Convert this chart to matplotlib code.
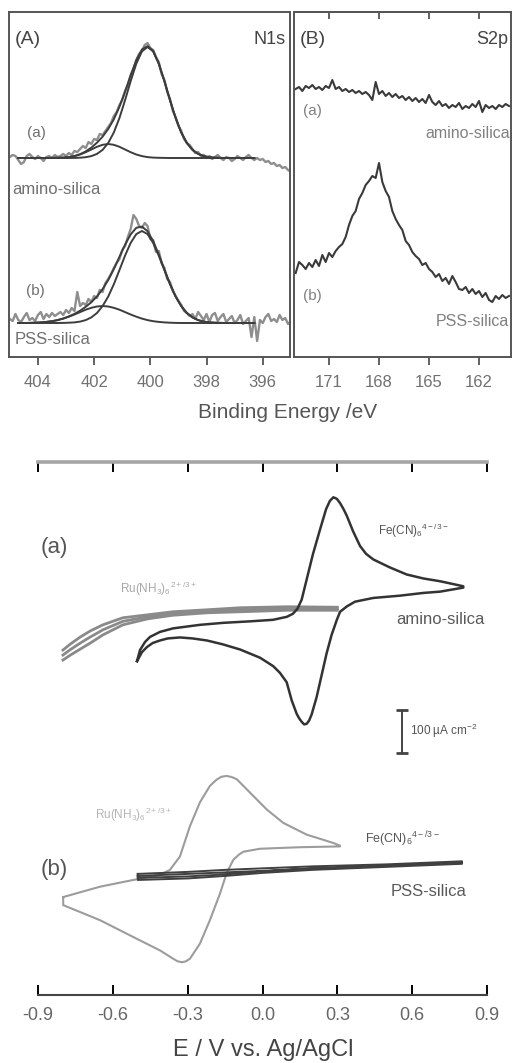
import matplotlib
matplotlib.use('Agg')
import matplotlib.pyplot as plt
import numpy as np

plt.rcParams['font.family'] = ['Liberation Sans', 'DejaVu Sans']
plt.rcParams['mathtext.fontset'] = 'custom'
plt.rcParams['mathtext.rm'] = 'Liberation Sans'
plt.rcParams['mathtext.it'] = 'Liberation Sans:italic'
plt.rcParams['mathtext.default'] = 'regular'
plt.rcParams['axes.unicode_minus'] = False

W, H = 512, 1063

# ---------------- XPS N1s (panel A) ----------------
# binding energy grid of the raw spectra, 405.0 -> 395.0 eV in 0.1 eV steps
be_n1s = np.linspace(405.0, 395.0, 101)
n1s_a = [1, 3, 2, -2, -6, -4, 2, 4, 1, -1,
         2, 0, -3, 1, 2, 0, 3, 1, 2, 4,
         2, 5, 3, 7, 6, 9, 12, 10, 16, 14,
         19, 18, 24, 23, 27, 31, 35, 42, 46, 53,
         58, 67, 73, 83, 89, 98, 104, 107, 113, 115,
         110, 108, 101, 96, 84, 78, 66, 59, 47, 41,
         32, 27, 19, 15, 13, 9, 5, 6, 2, 3,
         0, 2, -1, 1, 3, 0, -2, 1, 0, -3,
         -1, 2, 0, -2, 1, 3, 0, -2, 0, -2,
         -1, -4, -3, -6, -5, -8, -7, -10, -9, -12,
         -14]
n1s_b = [4, 2, 9, 3, 1, 6, 10, 3, 5, 2,
         8, 11, 4, 9, 6, 10, 7, 9, 11, 8,
         13, 10, 15, 12, 31, 17, 20, 18, 24, 21,
         27, 25, 33, 31, 40, 44, 49, 55, 60, 64,
         73, 77, 86, 94, 108, 104, 97, 95, 100, 97,
         84, 83, 71, 72, 60, 55, 44, 41, 32, 27,
         22, 18, 12, 10, 7, 9, 4, 11, 7, 3,
         9, 1, 8, 10, 2, 6, 9, 1, 4, 7,
         0, 3, 8, -1, 2, 5, -14, 6, -18, 3,
         0, 6, 9, 2, 4, 1, 8, 3, 5, -1,
         2]

# fitted components, 404.7 -> 396.3 eV in 0.2 eV steps
be_fit = np.linspace(404.7, 396.3, 43)
fit_a_env = [0, 0, 0, 0, 0, 0, 0.1, 0.2, 0.4, 0.9,
             2.0, 3.8, 6.6, 10.4, 15.3, 21.3, 29.0, 38.7, 51.2, 66.3,
             82.7, 97.8, 108.5, 111.9, 107.0, 94.5, 77.0, 57.8, 40.0, 25.5,
             15.0, 8.1, 4.1, 1.9, 0.8, 0.3, 0.1, 0, 0, 0,
             0, 0, 0]
fit_a_main = [0, 0, 0, 0, 0, 0, 0, 0, 0, 0,
              0.1, 0.3, 0.8, 1.9, 4.1, 8.1, 15.0, 25.5, 40.0, 57.8,
              76.9, 94.3, 106.6, 111.0, 106.6, 94.3, 76.9, 57.8, 40.0, 25.5,
              15.0, 8.1, 4.1, 1.9, 0.8, 0.3, 0.1, 0, 0, 0,
              0, 0, 0]
fit_a_small = [0, 0, 0, 0, 0, 0, 0.1, 0.2, 0.4, 0.9,
               1.9, 3.5, 5.8, 8.5, 11.2, 13.2, 14.0, 13.2, 11.2, 8.5,
               5.8, 3.5, 1.9, 0.9, 0.4, 0.2, 0.1, 0, 0, 0,
               0, 0, 0, 0, 0, 0, 0, 0, 0, 0,
               0, 0, 0]
fit_b_env = [0, 0, 0.1, 0.3, 0.6, 1.1, 1.8, 2.9, 4.5, 6.6,
             9.1, 12.3, 16.2, 20.8, 26.5, 33.9, 42.9, 53.9, 66.2, 78.3,
             88.6, 95.2, 96.4, 91.8, 81.9, 68.5, 53.5, 39.0, 26.5, 16.9,
             10.0, 5.6, 2.9, 1.4, 0.6, 0.3, 0.1, 0, 0, 0,
             0, 0, 0]
fit_b_main = [0, 0, 0, 0, 0, 0, 0, 0, 0.1, 0.3,
              0.6, 1.4, 2.9, 5.6, 10.0, 16.9, 26.4, 38.7, 52.9, 67.4,
              80.1, 88.9, 92.0, 88.9, 80.1, 67.4, 52.9, 38.7, 26.4, 16.9,
              10.0, 5.6, 2.9, 1.4, 0.6, 0.3, 0.1, 0, 0, 0,
              0, 0, 0]
fit_b_small = [0, 0, 0.1, 0.3, 0.6, 1.1, 1.8, 2.9, 4.4, 6.3,
               8.5, 10.9, 13.3, 15.2, 16.5, 17.0, 16.5, 15.2, 13.3, 10.9,
               8.5, 6.3, 4.4, 2.9, 1.8, 1.1, 0.6, 0.3, 0.1, 0,
               0, 0, 0, 0, 0, 0, 0, 0, 0, 0,
               0, 0, 0]
n1s_ticks = [404, 402, 400, 398, 396]

# ---------------- XPS S2p (panel B) ----------------
be_s2p = np.linspace(173.0, 160.2, 65)
s2p_a = [268, 270, 266, 271, 269, 272, 268, 270, 267, 271,
         269, 277, 268, 270, 266, 268, 265, 267, 264, 266,
         263, 265, 262, 257, 275, 263, 266, 261, 264, 260,
         263, 259, 261, 257, 260, 256, 259, 255, 258, 254,
         262, 255, 252, 256, 251, 253, 249, 252, 250, 254,
         248, 251, 249, 253, 250, 256, 245, 252, 249, 251,
         248, 252, 250, 253, 251]
s2p_b = [84, 95, 92, 88, 94, 90, 97, 91, 102, 95,
         104, 100, 106, 110, 113, 120, 132, 141, 146, 158,
         164, 172, 176, 181, 179, 194, 175, 166, 160, 146,
         138, 132, 127, 116, 112, 105, 101, 98, 92, 94,
         88, 85, 80, 83, 76, 79, 73, 81, 75, 68,
         67, 70, 64, 68, 63, 66, 60, 64, 57, 55,
         61, 58, 62, 59, 61]
s2p_ticks = [171, 168, 165, 162]

# ---------------- cyclic voltammograms ----------------
# current in uA cm-2, each set stacked on its own offset
fe_a_E = [-0.503, -0.491, -0.471, -0.451, -0.411, -0.359, -0.251, -0.158, -0.050, 0.042,
          0.098, 0.122, 0.140, 0.157, 0.177, 0.202, 0.231, 0.255, 0.270, 0.284,
          0.298, 0.311, 0.325, 0.338, 0.363, 0.391, 0.415, 0.444, 0.511, 0.578,
          0.645, 0.712, 0.805,
          0.805, 0.712, 0.645, 0.551, 0.444, 0.371, 0.338, 0.311, 0.298, 0.277,
          0.257, 0.237, 0.217, 0.197, 0.187, 0.177, 0.167, 0.157, 0.147, 0.137,
          0.117, 0.097, 0.070, 0.043, -0.010, -0.090, -0.160, -0.223, -0.280, -0.331,
          -0.380, -0.411, -0.440, -0.463, -0.483, -0.503]
fe_a_I = [-48.8, -23.3, -4.7, 7.0, 18.6, 26.7, 34.9, 39.5, 43.0, 46.5,
          53.5, 60.5, 72.0, 93.0, 139.5, 197.7, 255.8, 302.3, 321.0, 329.5,
          326.0, 316.0, 302.0, 286.7, 251.2, 217.0, 199.0, 186.0, 167.4, 151.2,
          142.0, 135.6, 124.0,
          120.9, 111.6, 108.6, 102.3, 97.0, 88.4, 77.4, 65.1, 46.5, 11.6,
          -30.9, -81.4, -131.9, -172.1, -186.0, -193.7, -195.0, -189.0, -181.0, -170.5,
          -139.5, -97.7, -76.0, -60.5, -41.0, -22.0, -10.0, -1.2, 3.5, 5.8,
          3.5, -1.2, -7.0, -16.3, -27.9, -48.8]

ru_a_E = [-0.80, -0.77, -0.73, -0.69, -0.64, -0.56, -0.46, -0.36, -0.22, -0.09, 0.10, 0.30]
ru_a_up = [-23.3, -9.3, 7.0, 20.9, 34.9, 51.2, 58.1, 65.1, 69.8, 74.4, 76.7, 75.6]
ru_a_mid = [-34.9, -22.1, -7.0, 7.0, 23.3, 43.0, 53.5, 61.0, 66.3, 69.8, 72.7, 72.1]
ru_a_dn = [-46.5, -34.9, -20.9, -7.0, 11.6, 34.9, 48.8, 57.0, 62.8, 65.1, 68.6, 68.6]

ru_b_E = [-0.799, -0.651, -0.518, -0.411, -0.371, -0.331, -0.291, -0.251, -0.211, -0.185,
          -0.165, -0.144, -0.124, -0.103, -0.050, 0.017, 0.083, 0.177, 0.284, 0.311,
          0.311, 0.150, -0.010, -0.077, -0.095, -0.117, -0.144, -0.170, -0.211, -0.251,
          -0.291, -0.308, -0.324, -0.341, -0.358, -0.411, -0.518, -0.651, -0.799, -0.799]
ru_b_I = [-62.8, -38.8, -23.3, -11.6, 0, 30.9, 100.7, 155.8, 193.7, 208.0,
          215.0, 217.0, 214.5, 209.3, 178.4, 139.5, 108.6, 81.4, 62.1, 55.8,
          54.2, 52.3, 48.8, 41.9, 35.0, 23.3, -7.7, -54.2, -116.3, -170.5,
          -205.3, -211.5, -213.3, -211.0, -205.3, -186.0, -155.1, -116.3, -81.4, -62.8]

fe_b_E = [-0.5, -0.3, -0.15, 0.0, 0.2, 0.5, 0.8]
fe_b_up1 = [-9.3, -4.7, 0, 3.5, 8.1, 12.8, 19.8]
fe_b_dn1 = [-23.3, -19.8, -14.0, -7.0, 0, 7.0, 14.0]
fe_b_up2 = [-14.0, -9.3, -5.8, -2.3, 3.5, 9.3, 17.4]
fe_b_dn2 = [-18.6, -15.1, -10.5, -3.5, 3.5, 9.3, 16.3]

cv_ticks = [-0.9, -0.6, -0.3, 0.0, 0.3, 0.6, 0.9]
cv_ticklabels = ['-0.9', '-0.6', '-0.3', '0.0', '0.3', '0.6', '0.9']

# stacking offsets / scale bar
off_n1s_a, off_n1s_b = 199, 34
off_cv_a, off_cv_b = 820, 289
bar_E, bar_y0, bar_len = 0.558, 558, 100

fig = plt.figure(figsize=(W / 100, H / 100), dpi=100)


def rect(l, t, r, b):
    return [l / W, 1 - b / H, (r - l) / W, (b - t) / H]


def put(px, py, s, **kw):
    kw.setdefault('ha', 'center')
    kw.setdefault('va', 'center')
    fig.text(px / W, 1 - py / H, s, **kw)


def frame(ax):
    for sp in ax.spines.values():
        sp.set_linewidth(1.4)
        sp.set_color('#555555')
    ax.set_yticks([])


dark = '#3d3d3d'
data_gray = '#8e8e8e'

# panel A
axA = fig.add_axes(rect(9, 12, 290, 357))
axA.plot(be_n1s, np.array(n1s_a) + off_n1s_a, color=data_gray, lw=1.7)
axA.plot(be_n1s, np.array(n1s_b) + off_n1s_b, color=data_gray, lw=1.7)
for off, comps in ((off_n1s_a, (fit_a_env, fit_a_main, fit_a_small)),
                   (off_n1s_b, (fit_b_env, fit_b_main, fit_b_small))):
    for c in comps:
        axA.plot(be_fit, np.array(c) + off, color=dark, lw=1.4)
axA.set_xlim(405.03, 395.03)
axA.set_ylim(0, 345)
axA.set_xticks(n1s_ticks)
axA.set_xticklabels([str(t) for t in n1s_ticks])
axA.tick_params(axis='x', direction='out', length=6, width=1.3, color='#555555',
                labelsize=12, labelcolor='#707070', pad=7)
frame(axA)

# panel B
axB = fig.add_axes(rect(294, 12, 511, 357))
axB.plot(be_s2p, s2p_a, color='#3a3a3a', lw=1.5)
axB.plot(be_s2p, s2p_b, color='#3a3a3a', lw=1.5)
axB.set_xlim(173.1, 160.08)
axB.set_ylim(0, 345)
axB.set_xticks(s2p_ticks)
axB.set_xticklabels([str(t) for t in s2p_ticks])
axB.tick_params(axis='x', direction='out', length=6, width=1.3, color='#555555',
                labelsize=12, labelcolor='#707070', pad=7)
frame(axB)
secB = axB.secondary_xaxis('top')
secB.set_xticks(s2p_ticks)
secB.set_xticklabels([])
secB.tick_params(direction='in', length=5, width=1.3, color='#555555')
secB.spines['top'].set_linewidth(1.4)
secB.spines['top'].set_color('#555555')

put(15, 39, '(A)', fontsize=14, color='#444444', ha='left')
put(286, 39, 'N1s', fontsize=13, color='#444444', ha='right')
put(300, 40, '(B)', fontsize=14, color='#444444', ha='left')
put(508, 40, 'S2p', fontsize=13, color='#444444', ha='right')
put(36, 133, '(a)', fontsize=11, color='#707070')
put(12, 190, 'amino-silica', fontsize=12, color='#707070', ha='left')
put(35, 291, '(b)', fontsize=11, color='#707070')
put(15, 340, 'PSS-silica', fontsize=12, color='#707070', ha='left')
put(312, 111, '(a)', fontsize=11, color='#808080')
put(510, 134, 'amino-silica', fontsize=11.5, color='#808080', ha='right')
put(312, 296, '(b)', fontsize=11, color='#808080')
put(509, 322, 'PSS-silica', fontsize=11.5, color='#808080', ha='right')
put(288, 413, 'Binding Energy /eV', fontsize=15, color='#555555')

# CV panel
axC = fig.add_axes(rect(38, 462, 487, 995))
for I_ru in (ru_a_up, ru_a_mid, ru_a_dn):
    axC.plot(ru_a_E, np.array(I_ru) + off_cv_a, color='#8a8a8a', lw=2.0)
axC.plot(fe_a_E, np.array(fe_a_I) + off_cv_a, color='#333333', lw=1.8)
axC.plot(ru_b_E, np.array(ru_b_I) + off_cv_b, color='#9c9c9c', lw=1.5)
for up, dn in ((fe_b_up1, fe_b_dn1), (fe_b_up2, fe_b_dn2)):
    loopE = fe_b_E + fe_b_E[::-1] + fe_b_E[:1]
    loopI = np.array(up + dn[::-1] + up[:1]) + off_cv_b
    axC.plot(loopE, loopI, color='#404040', lw=1.4)
axC.errorbar([bar_E], [bar_y0 + bar_len / 2], yerr=[bar_len / 2], color='#444444',
             lw=1.4, capsize=4, capthick=2)

axC.set_xlim(-0.9, 0.9)
axC.set_ylim(0, 1231)
axC.set_yticks([])
axC.set_xticks(cv_ticks)
axC.set_xticklabels(cv_ticklabels)
axC.tick_params(axis='x', top=True, direction='in', length=7, width=1.4,
                labelsize=13, labelcolor='#666666', pad=9)
for t in axC.xaxis.get_major_ticks():
    t.tick1line.set_color('#444444')
    t.tick2line.set_color('#9a9a9a')
axC.spines['left'].set_visible(False)
axC.spines['right'].set_visible(False)
axC.spines['top'].set_color('#a5a5a5')
axC.spines['top'].set_linewidth(2.6)
axC.spines['bottom'].set_color('#444444')
axC.spines['bottom'].set_linewidth(1.5)

fe_lab = r'Fe(CN)$_6$$^{4-/3-}$'
ru_lab = r'Ru(NH$_3$)$_6$$^{2+/3+}$'
put(54, 548, '(a)', fontsize=16, color='#555555')
put(54, 870, '(b)', fontsize=16, color='#555555')
put(378, 531, fe_lab, fontsize=8.5, color='#555555', ha='left')
put(120, 589, ru_lab, fontsize=8.5, color='#a8a8a8', ha='left')
put(440, 620, 'amino-silica', fontsize=12, color='#5a5a5a')
put(95, 815, ru_lab, fontsize=8.5, color='#b5b5b5', ha='left')
put(365, 839, fe_lab, fontsize=9, color='#555555', ha='left')
put(429, 891, 'PSS-silica', fontsize=12, color='#5a5a5a')
put(410, 731, r'100 µA cm$^{-2}$', fontsize=8.5, color='#555555', ha='left')
put(263, 1050, 'E / V vs. Ag/AgCl', fontsize=17, color='#444444')

fig.savefig('out.png', dpi=100, facecolor='white')
